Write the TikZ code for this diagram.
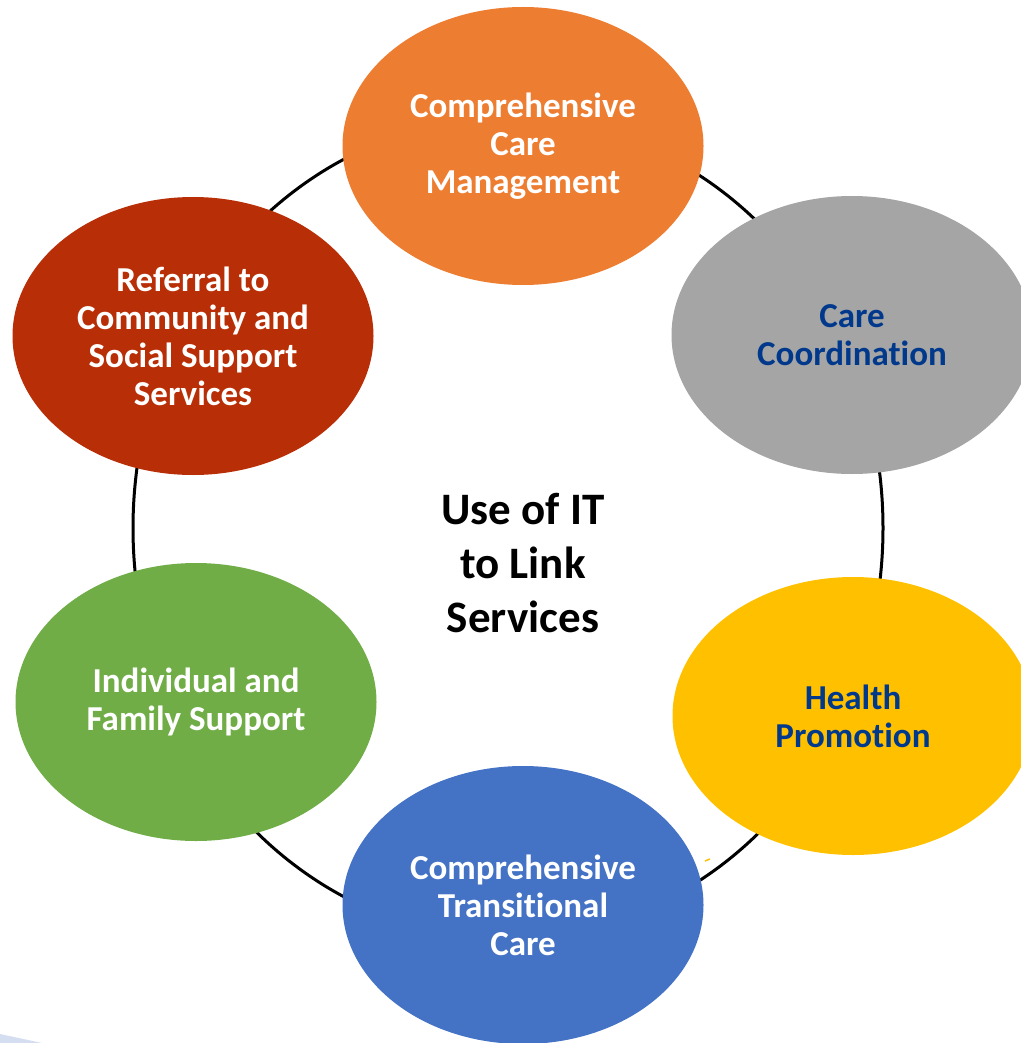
\documentclass[tikz,border=0pt]{standalone}
\usepackage{fontspec}
\setmainfont{Carlito}[Ligatures={NoCommon}]
\usetikzlibrary{shapes.geometric}

\definecolor{cmorange}{HTML}{ED7D31}
\definecolor{ccgrey}{HTML}{A5A5A5}
\definecolor{hpyellow}{HTML}{FFC000}
\definecolor{tcblue}{HTML}{4472C4}
\definecolor{fsgreen}{HTML}{70AD47}
\definecolor{rfred}{HTML}{B82E07}
\definecolor{txtblue}{HTML}{00398C}
\definecolor{edgeblue}{HTML}{D5DDF0}

\begin{document}
\begin{tikzpicture}[x=1pt, y=-1pt]
    \tikzset{service/.style={ellipse, inner sep=0pt, minimum width=361pt, minimum height=278pt,
                             align=center, font=\bfseries\fontsize{35}{38}\selectfont},
             hub/.style={align=center, font=\bfseries\fontsize{45}{54}\selectfont}}
    \useasboundingbox (0,0) rectangle (1020,1043);
    \fill[edgeblue] (0,1034) -- (42,1043) -- (0,1043) -- cycle;
    % ring behind the services
    \draw[line width=3pt] (508,528) ellipse [x radius=375, y radius=410];
    \node[hub] (use_it) at (523,563) {Use of IT\\to Link\\Services};
    \node[service, fill=cmorange, text=white]  (care_mgmt)  at (523,146) {Comprehensive\\Care\\Management};
    \node[service, fill=ccgrey, text=txtblue]  (care_coord) at (852,335) {Care\\Coordination};
    \node[service, fill=hpyellow, text=txtblue] (health)    at (853,716) {Health\\Promotion};
    \node[service, fill=tcblue, text=white]    (transition) at (523,905) {Comprehensive\\Transitional\\Care};
    \node[service, fill=fsgreen, text=white]   (family)     at (196,702) {Individual and\\Family Support};
    \node[service, fill=rfred, text=white]     (referral)   at (193,336) {Referral to\\Community and\\Social Support\\Services};
    \draw[hpyellow, line width=1.5pt] (705,861) -- (710,859);
\end{tikzpicture}
\end{document}
